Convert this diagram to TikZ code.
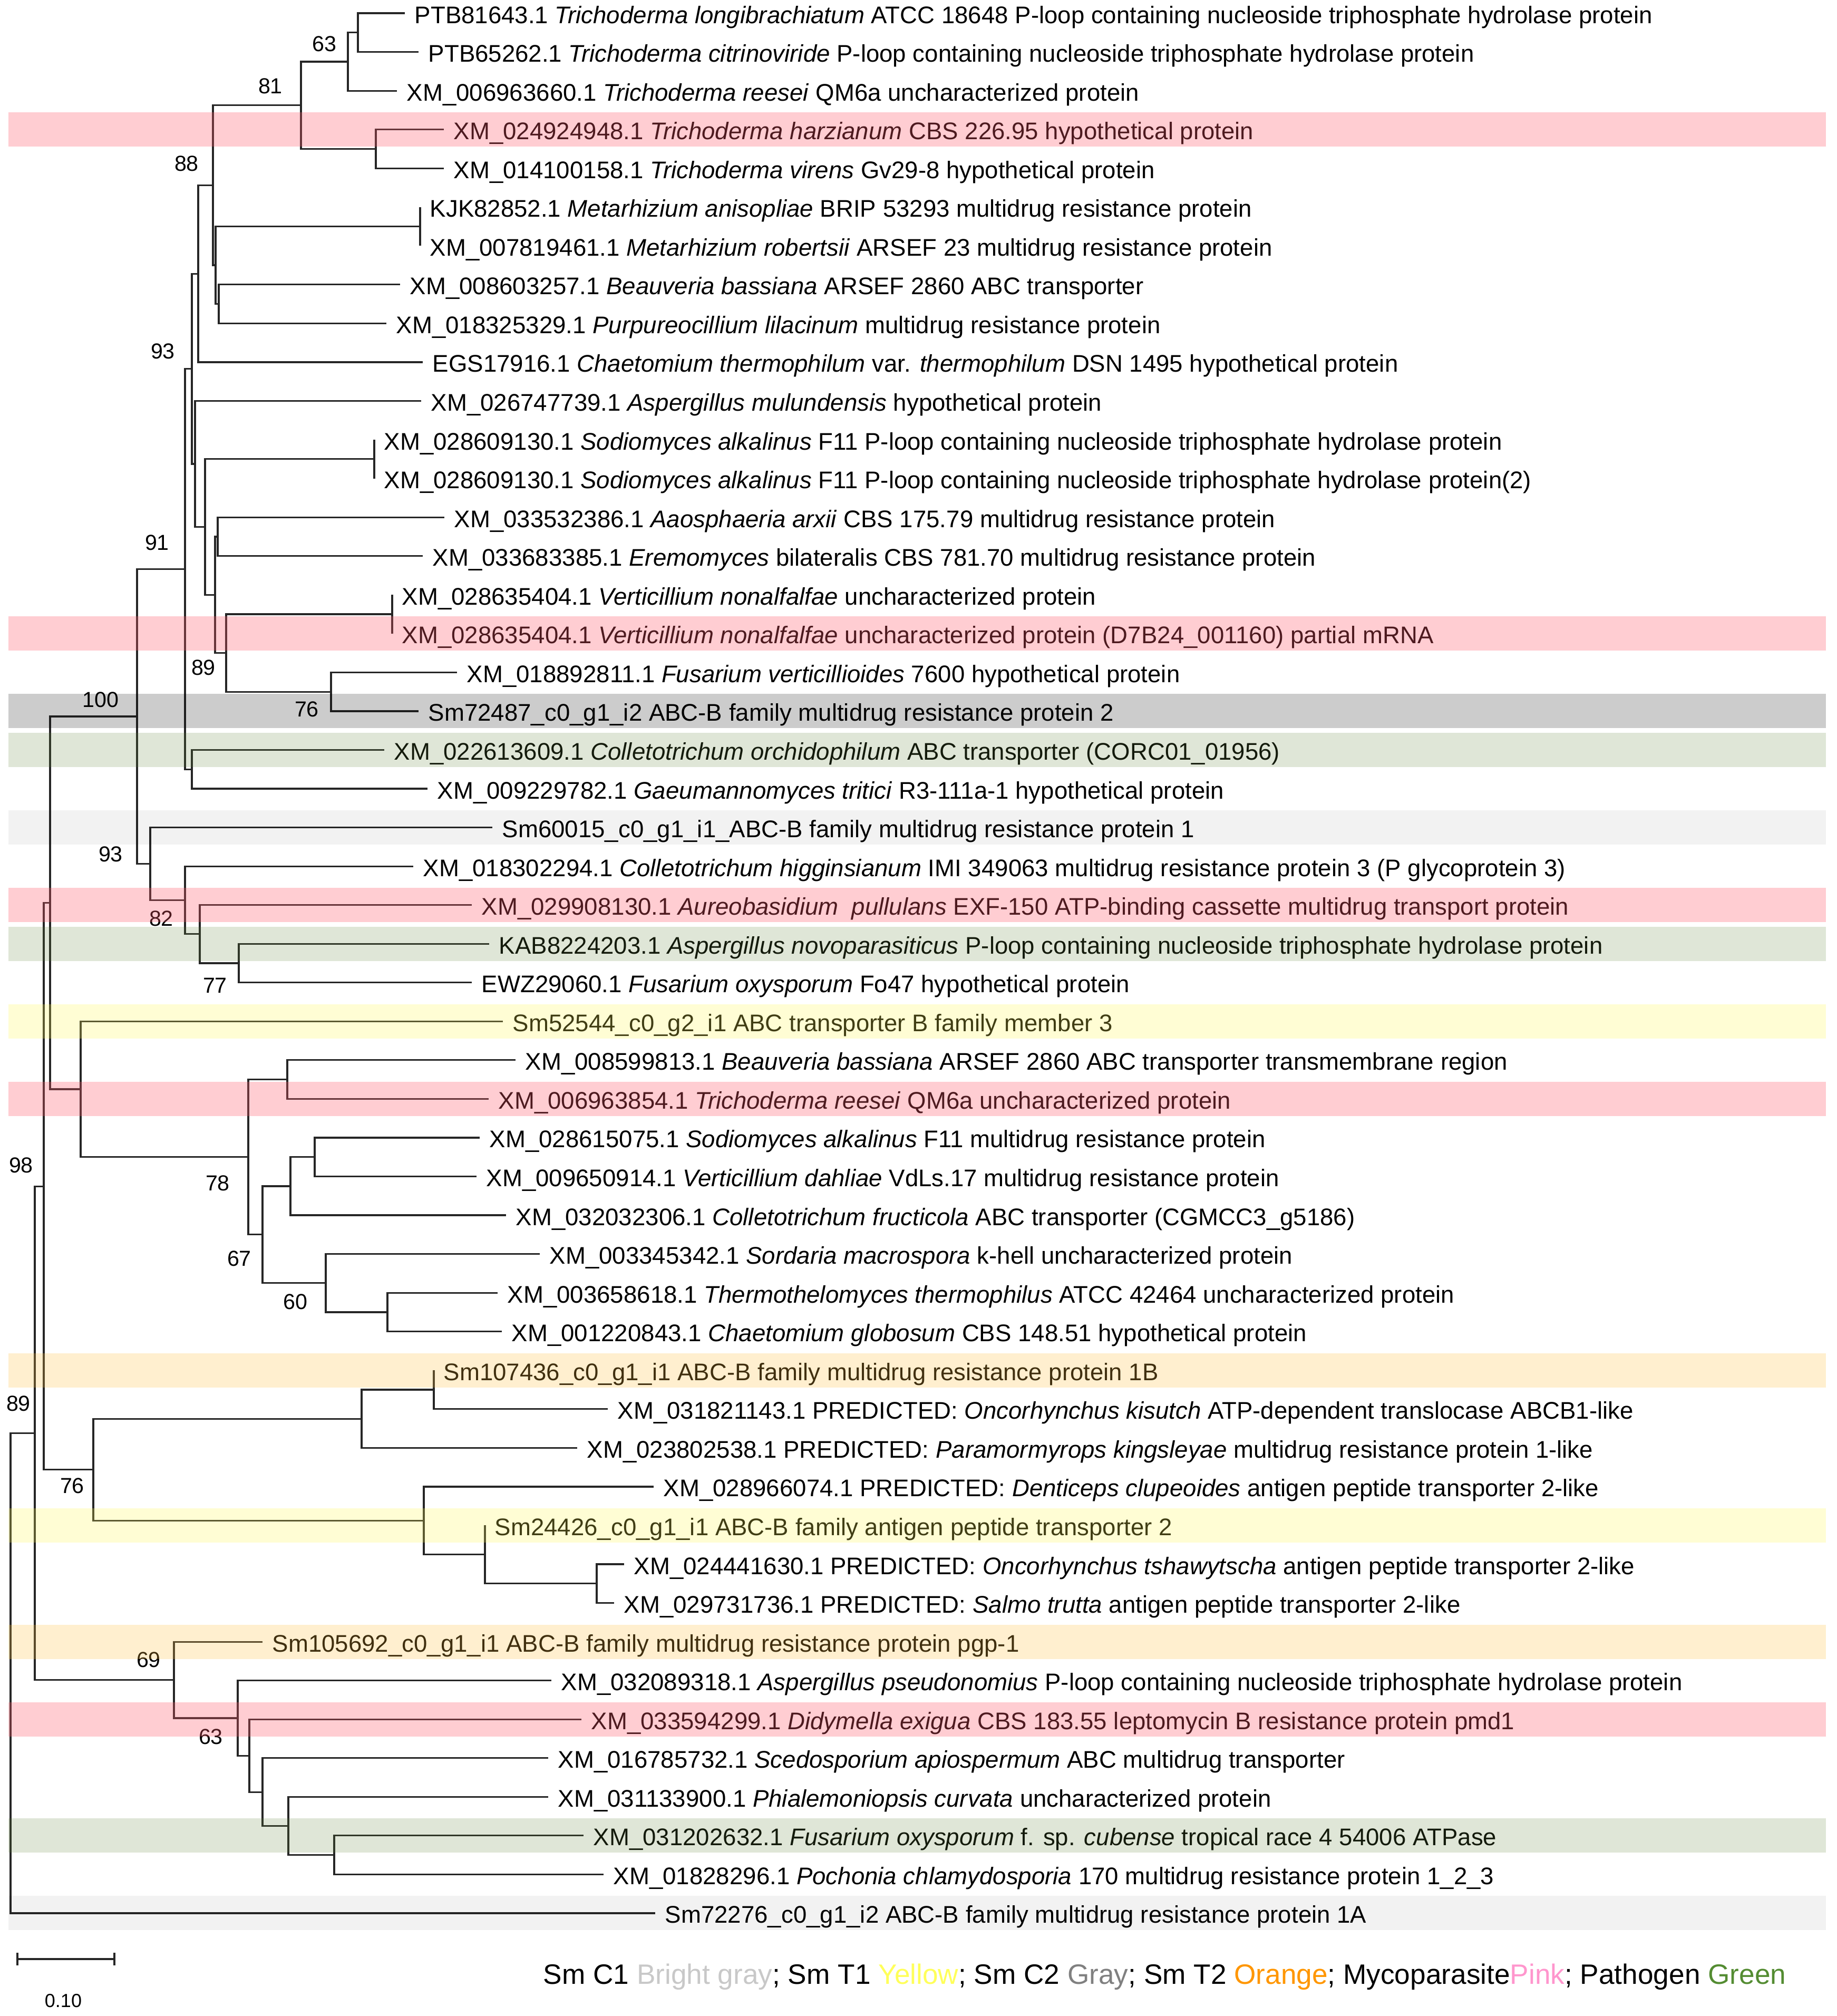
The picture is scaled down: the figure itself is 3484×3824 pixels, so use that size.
\documentclass[tikz,border=0pt]{standalone}
\usepackage{fontspec}
\setmainfont{Liberation Sans}
\definecolor{pinkO}{RGB}{255,88,105}
\definecolor{greenO}{RGB}{95,130,55}
\definecolor{yellowO}{RGB}{255,247,83}
\definecolor{orangeO}{RGB}{255,191,63}
\definecolor{lgBright}{RGB}{200,200,200}
\definecolor{lgYellow}{RGB}{255,255,90}
\definecolor{lgGray}{RGB}{128,128,128}
\definecolor{lgOrange}{RGB}{255,150,0}
\definecolor{lgPink}{RGB}{255,150,205}
\definecolor{lgGreen}{RGB}{84,140,50}
\newcommand\Leaf[4]{\coordinate (#1) at (#3,{ly(#2)}); \node[lab] (#1t) at ([xshift=4.5pt,yshift=-4.75pt]#1) {#4};}
\newcommand\Inner[3]{\coordinate (#1) at (#2,{ly(#3)});}
\newcommand\Kids[3]{\draw[br] (#2) -| (#1) |- (#3);}
\newcommand\Band[2]{\fill[#1] (16,{ly(#2)-32.5}) rectangle (3464,{ly(#2)+32.5});}
\begin{document}
\begin{tikzpicture}[x=0.25pt,y=-0.25pt,
  declare function={ly(\i)=25+(\i-1)*73.55;},
  br/.style={line width=0.8pt, draw=black!85, line join=miter},
  lab/.style={anchor=base west, inner sep=0pt, font=\fontsize{11.4}{13}\selectfont},
  boot/.style={inner sep=0pt, font=\fontsize{10.3}{12}\selectfont},
  pinkband/.style={fill=pinkO, fill opacity=0.3},
  greenband/.style={fill=greenO, fill opacity=0.2},
  grayband/.style={fill=black, fill opacity=0.2},
  brightband/.style={fill=black, fill opacity=0.05},
  yellowband/.style={fill=yellowO, fill opacity=0.25},
  orangeband/.style={fill=orangeO, fill opacity=0.25}]
\useasboundingbox (0,0) rectangle (3484,3824);
% leaves
\Leaf{l1}{1}{768}{PTB81643.1 \textit{Trichoderma longibrachiatum} ATCC 18648 P-loop containing nucleoside triphosphate hydrolase protein}
\Leaf{l2}{2}{794}{PTB65262.1 \textit{Trichoderma citrinoviride} P-loop containing nucleoside triphosphate hydrolase protein}
\Leaf{l3}{3}{753}{XM\_006963660.1 \textit{Trichoderma reesei} QM6a uncharacterized protein}
\Leaf{l4}{4}{842}{XM\_024924948.1 \textit{Trichoderma harzianum} CBS 226.95 hypothetical protein}
\Leaf{l5}{5}{842}{XM\_014100158.1 \textit{Trichoderma virens} Gv29-8 hypothetical protein}
\Leaf{l6}{6}{797}{KJK82852.1 \textit{Metarhizium anisopliae} BRIP 53293 multidrug resistance protein}
\Leaf{l7}{7}{797}{XM\_007819461.1 \textit{Metarhizium robertsii} ARSEF 23 multidrug resistance protein}
\Leaf{l8}{8}{759}{XM\_008603257.1 \textit{Beauveria bassiana} ARSEF 2860 ABC transporter}
\Leaf{l9}{9}{733}{XM\_018325329.1 \textit{Purpureocillium lilacinum} multidrug resistance protein}
\Leaf{l10}{10}{802}{EGS17916.1 \textit{Chaetomium thermophilum} var. \textit{thermophilum} DSN 1495 hypothetical protein}
\Leaf{l11}{11}{799}{XM\_026747739.1 \textit{Aspergillus mulundensis} hypothetical protein}
\Leaf{l12}{12}{710}{XM\_028609130.1 \textit{Sodiomyces alkalinus} F11 P-loop containing nucleoside triphosphate hydrolase protein}
\Leaf{l13}{13}{710}{XM\_028609130.1 \textit{Sodiomyces alkalinus} F11 P-loop containing nucleoside triphosphate hydrolase protein(2)}
\Leaf{l14}{14}{843}{XM\_033532386.1 \textit{Aaosphaeria arxii} CBS 175.79 multidrug resistance protein}
\Leaf{l15}{15}{802}{XM\_033683385.1 \textit{Eremomyces} bilateralis CBS 781.70 multidrug resistance protein}
\Leaf{l16}{16}{744}{XM\_028635404.1 \textit{Verticillium nonalfalfae} uncharacterized protein}
\Leaf{l17}{17}{744}{XM\_028635404.1 \textit{Verticillium nonalfalfae} uncharacterized protein (D7B24\_001160) partial mRNA}
\Leaf{l18}{18}{867}{XM\_018892811.1 \textit{Fusarium verticillioides} 7600 hypothetical protein}
\Leaf{l19}{19}{794}{Sm72487\_c0\_g1\_i2 ABC-B family multidrug resistance protein 2}
\Leaf{l20}{20}{729}{XM\_022613609.1 \textit{Colletotrichum orchidophilum} ABC transporter (CORC01\_01956)}
\Leaf{l21}{21}{811}{XM\_009229782.1 \textit{Gaeumannomyces tritici} R3-111a-1 hypothetical protein}
\Leaf{l22}{22}{934}{Sm60015\_c0\_g1\_i1\_ABC-B family multidrug resistance protein 1}
\Leaf{l23}{23}{784}{XM\_018302294.1 \textit{Colletotrichum higginsianum} IMI 349063 multidrug resistance protein 3 (P glycoprotein 3)}
\Leaf{l24}{24}{895}{XM\_029908130.1 \textit{Aureobasidium\ \ pullulans} EXF-150 ATP-binding cassette multidrug transport protein}
\Leaf{l25}{25}{928}{KAB8224203.1 \textit{Aspergillus novoparasiticus} P-loop containing nucleoside triphosphate hydrolase protein}
\Leaf{l26}{26}{895}{EWZ29060.1 \textit{Fusarium oxysporum} Fo47 hypothetical protein}
\Leaf{l27}{27}{954}{Sm52544\_c0\_g2\_i1 ABC transporter B family member 3}
\Leaf{l28}{28}{978}{XM\_008599813.1 \textit{Beauveria bassiana} ARSEF 2860 ABC transporter transmembrane region}
\Leaf{l29}{29}{927}{XM\_006963854.1 \textit{Trichoderma reesei} QM6a uncharacterized protein}
\Leaf{l30}{30}{910}{XM\_028615075.1 \textit{Sodiomyces alkalinus} F11 multidrug resistance protein}
\Leaf{l31}{31}{904}{XM\_009650914.1 \textit{Verticillium dahliae} VdLs.17 multidrug resistance protein}
\Leaf{l32}{32}{960}{XM\_032032306.1 \textit{Colletotrichum fructicola} ABC transporter (CGMCC3\_g5186)}
\Leaf{l33}{33}{1024}{XM\_003345342.1 \textit{Sordaria macrospora} k-hell uncharacterized protein}
\Leaf{l34}{34}{944}{XM\_003658618.1 \textit{Thermothelomyces thermophilus} ATCC 42464 uncharacterized protein}
\Leaf{l35}{35}{952}{XM\_001220843.1 \textit{Chaetomium globosum} CBS 148.51 hypothetical protein}
\Leaf{l36}{36}{823}{Sm107436\_c0\_g1\_i1 ABC-B family multidrug resistance protein 1B}
\Leaf{l37}{37}{1153}{XM\_031821143.1 PREDICTED: \textit{Oncorhynchus kisutch} ATP-dependent translocase ABCB1-like}
\Leaf{l38}{38}{1095}{XM\_023802538.1 PREDICTED: \textit{Paramormyrops kingsleyae} multidrug resistance protein 1-like}
\Leaf{l39}{39}{1240}{XM\_028966074.1 PREDICTED: \textit{Denticeps clupeoides} antigen peptide transporter 2-like}
\Leaf{l40}{40}{920}{Sm24426\_c0\_g1\_i1 ABC-B family antigen peptide transporter 2}
\Leaf{l41}{41}{1184}{XM\_024441630.1 PREDICTED: \textit{Oncorhynchus tshawytscha} antigen peptide transporter 2-like}
\Leaf{l42}{42}{1165}{XM\_029731736.1 PREDICTED: \textit{Salmo trutta} antigen peptide transporter 2-like}
\Leaf{l43}{43}{498}{Sm105692\_c0\_g1\_i1 ABC-B family multidrug resistance protein pgp-1}
\Leaf{l44}{44}{1046}{XM\_032089318.1 \textit{Aspergillus pseudonomius} P-loop containing nucleoside triphosphate hydrolase protein}
\Leaf{l45}{45}{1103}{XM\_033594299.1 \textit{Didymella exigua} CBS 183.55 leptomycin B resistance protein pmd1}
\Leaf{l46}{46}{1040}{XM\_016785732.1 \textit{Scedosporium apiospermum} ABC multidrug transporter}
\Leaf{l47}{47}{1040}{XM\_031133900.1 \textit{Phialemoniopsis curvata} uncharacterized protein}
\Leaf{l48}{48}{1107}{XM\_031202632.1 \textit{Fusarium oxysporum} f. sp. \textit{cubense} tropical race 4 54006 ATPase}
\Leaf{l49}{49}{1145}{XM\_01828296.1 \textit{Pochonia chlamydosporia} 170 multidrug resistance protein 1\_2\_3}
\Leaf{l50}{50}{1243}{Sm72276\_c0\_g1\_i2 ABC-B family multidrug resistance protein 1A}
% inner nodes
\Inner{nA}{679}{1.5}
\Inner{nB}{660}{2.25}
\Inner{nC1}{713}{4.5}
\Inner{nC}{571}{3.375}
\Inner{nMet}{797}{6.5}
\Inner{nE}{415}{8.5}
\Inner{nF}{409}{7.5}
\Inner{nD}{404}{5.4375}
\Inner{nG}{376}{7.71875}
\Inner{nSod}{710}{12.5}
\Inner{nAa}{413}{14.5}
\Inner{nVer}{744}{16.5}
\Inner{nFu}{628}{18.5}
\Inner{nVn}{429}{17.5}
\Inner{nQa}{408}{16}
\Inner{nQb}{389}{14.25}
\Inner{nQc}{370}{12.625}
\Inner{nH}{364}{10.171875}
\Inner{nJ}{364}{20.5}
\Inner{nI}{351}{15.3359375}
\Inner{nLd}{453}{25.5}
\Inner{nLc}{379}{24.75}
\Inner{nLb}{351}{23.875}
\Inner{nL}{285}{22.9375}
\Inner{nK}{260}{19.13671875}
\Inner{nPa}{545}{28.5}
\Inner{nPc}{597}{30.5}
\Inner{nPb}{551}{31.25}
\Inner{nPe}{735}{34.5}
\Inner{nPd}{618}{33.75}
\Inner{nQ}{498}{32.5}
\Inner{nP}{471}{30.5}
\Inner{nO}{153}{28.75}
\Inner{nM}{95}{23.943359}
\Inner{nSa}{823}{36.5}
\Inner{nSb}{686}{37.25}
\Inner{nSe}{1132}{41.5}
\Inner{nSd}{920}{40.75}
\Inner{nSc}{804}{39.875}
\Inner{nS}{177}{38.5625}
\Inner{nR}{83}{31.25293}
\Inner{nVd}{634}{48.5}
\Inner{nVc}{547}{47.75}
\Inner{nVb}{498}{46.875}
\Inner{nVa}{473}{45.9375}
\Inner{nV}{451}{44.96875}
\Inner{nU}{330}{43.984375}
\Inner{nT}{66}{37.61865}
\Inner{nRoot}{20}{43.80933}
% branches
\Kids{nA}{l1}{l2}
\Kids{nB}{nA}{l3}
\Kids{nC1}{l4}{l5}
\Kids{nC}{nB}{nC1}
\Kids{nMet}{l6}{l7}
\Kids{nE}{l8}{l9}
\Kids{nF}{nMet}{nE}
\Kids{nD}{nC}{nF}
\Kids{nG}{nD}{l10}
\Kids{nSod}{l12}{l13}
\Kids{nAa}{l14}{l15}
\Kids{nVer}{l16}{l17}
\Kids{nFu}{l18}{l19}
\Kids{nVn}{nVer}{nFu}
\Kids{nQa}{nAa}{nVn}
\Kids{nQb}{nSod}{nQa}
\Kids{nQc}{l11}{nQb}
\Kids{nH}{nG}{nQc}
\Kids{nJ}{l20}{l21}
\Kids{nI}{nH}{nJ}
\Kids{nLd}{l25}{l26}
\Kids{nLc}{l24}{nLd}
\Kids{nLb}{l23}{nLc}
\Kids{nL}{l22}{nLb}
\Kids{nK}{nI}{nL}
\Kids{nPa}{l28}{l29}
\Kids{nPc}{l30}{l31}
\Kids{nPb}{nPc}{l32}
\Kids{nPe}{l34}{l35}
\Kids{nPd}{l33}{nPe}
\Kids{nQ}{nPb}{nPd}
\Kids{nP}{nPa}{nQ}
\Kids{nO}{l27}{nP}
\Kids{nM}{nK}{nO}
\Kids{nSa}{l36}{l37}
\Kids{nSb}{nSa}{l38}
\Kids{nSe}{l41}{l42}
\Kids{nSd}{l40}{nSe}
\Kids{nSc}{l39}{nSd}
\Kids{nS}{nSb}{nSc}
\Kids{nR}{nM}{nS}
\Kids{nVd}{l48}{l49}
\Kids{nVc}{l47}{nVd}
\Kids{nVb}{l46}{nVc}
\Kids{nVa}{l45}{nVb}
\Kids{nV}{l44}{nVa}
\Kids{nU}{l43}{nV}
\Kids{nT}{nR}{nU}
\Kids{nRoot}{nT}{l50}
% bootstrap values
\node[boot] (b1) at (615,83) {63};
\node[boot] (b2) at (513,163) {81};
\node[boot] (b3) at (354,310) {88};
\node[boot] (b4) at (309,666) {93};
\node[boot] (b5) at (298,1029) {91};
\node[boot] (b6) at (386,1266) {89};
\node[boot] (b7) at (582,1345) {76};
\node[boot] (b8) at (191,1327) {100};
\node[boot] (b9) at (210,1620) {93};
\node[boot] (b10) at (306,1742) {82};
\node[boot] (b11) at (408,1869) {77};
\node[boot] (b12) at (40,2210) {98};
\node[boot] (b13) at (413,2244) {78};
\node[boot] (b14) at (454,2387) {67};
\node[boot] (b15) at (560,2469) {60};
\node[boot] (b16) at (35,2662) {89};
\node[boot] (b17) at (137,2818) {76};
\node[boot] (b18) at (282,3148) {69};
\node[boot] (b19) at (400,3294) {63};
% scale bar
\coordinate (sbL) at (33,3716);
\coordinate (sbR) at (217,3716);
\draw[br] (sbL) -- (sbR);
\draw[br] ([yshift=3pt]sbL) -- ([yshift=-3pt]sbL);
\draw[br] ([yshift=3pt]sbR) -- ([yshift=-3pt]sbR);
\node[inner sep=0pt, font=\fontsize{9}{11}\selectfont] (sblab) at (120,3795) {0.10};
% legend
\node[anchor=base west, inner sep=0pt, font=\fontsize{13.3}{15}\selectfont] (legend) at (1030,3763) {Sm C1 \textcolor{lgBright}{Bright gray}; Sm T1 \textcolor{lgYellow}{Yellow}; Sm C2 \textcolor{lgGray}{Gray}; Sm T2 \textcolor{lgOrange}{Orange}; Mycoparasite\textcolor{lgPink}{Pink}; Pathogen \textcolor{lgGreen}{Green}};
% highlight bands (overlay)
\Band{pinkband}{4}
\Band{pinkband}{17}
\Band{pinkband}{24}
\Band{pinkband}{29}
\Band{pinkband}{45}
\Band{grayband}{19}
\Band{greenband}{20}
\Band{greenband}{25}
\Band{greenband}{48}
\Band{brightband}{22}
\Band{brightband}{50}
\Band{yellowband}{27}
\Band{yellowband}{40}
\Band{orangeband}{36}
\Band{orangeband}{43}
\end{tikzpicture}
\end{document}
